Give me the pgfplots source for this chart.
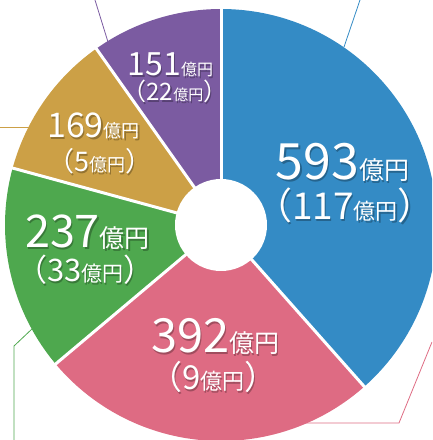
\documentclass[border=0pt]{standalone}
\usepackage{pgfplots}
\pgfplotsset{compat=1.18}
\usepackage{pgfplotstable}
\usepackage{fontspec}
\setmainfont{Noto Sans CJK JP}
\definecolor{cblue}{HTML}{348BC5}
\definecolor{cpink}{HTML}{DE6B83}
\definecolor{cgreen}{HTML}{4EA84E}
\definecolor{cgold}{HTML}{CCA046}
\definecolor{cpurple}{HTML}{7B5BA1}
% values (億円)
\pgfplotstableread{
name value
A 593
B 392
C 237
D 169
E 151
}\pietable
\newcommand{\shtext}[2]{%
  \node[anchor=base, text=black, text opacity=0.28, inner sep=0, xshift=1.2pt, yshift=-1.3pt] at (axis cs:#1) {#2};
  \node[anchor=base, text=white, inner sep=0] at (axis cs:#1) {#2};
}
\newcommand{\fs}[1]{\fontsize{#1}{#1}\selectfont}
\begin{document}
\begin{tikzpicture}
\pgfplotstablegetelem{0}{value}\of\pietable \let\vA\pgfplotsretval
\pgfplotstablegetelem{1}{value}\of\pietable \let\vB\pgfplotsretval
\pgfplotstablegetelem{2}{value}\of\pietable \let\vC\pgfplotsretval
\pgfplotstablegetelem{3}{value}\of\pietable \let\vD\pgfplotsretval
\pgfplotstablegetelem{4}{value}\of\pietable \let\vE\pgfplotsretval
\pgfmathsetmacro{\tot}{\vA+\vB+\vC+\vD+\vE}
\pgfmathsetmacro{\aA}{90}
\pgfmathsetmacro{\aB}{\aA-360*(\vA/\tot)}
\pgfmathsetmacro{\aC}{\aB-360*(\vB/\tot)}
\pgfmathsetmacro{\aD}{\aC-360*(\vC/\tot)}
\pgfmathsetmacro{\aE}{\aD-360*(\vD/\tot)}
\pgfmathsetmacro{\aF}{\aE-360*(\vE/\tot)}
\begin{axis}[
  scale only axis, width=432pt, height=440pt,
  xmin=0, xmax=432, ymin=-440, ymax=0,
  hide axis, clip=true,
]
\begin{scope}
\clip (axis cs:0,-440) rectangle (axis cs:432,0);
\fill[cblue]   (axis cs:221,-225) -- ++(\aA:216pt) arc[start angle=\aA, end angle=\aB, radius=216pt] -- cycle;
\fill[cpink]   (axis cs:221,-225) -- ++(\aB:216pt) arc[start angle=\aB, end angle=\aC, radius=216pt] -- cycle;
\fill[cgreen]  (axis cs:221,-225) -- ++(\aC:216pt) arc[start angle=\aC, end angle=\aD, radius=216pt] -- cycle;
\fill[cgold]   (axis cs:221,-225) -- ++(\aD:216pt) arc[start angle=\aD, end angle=\aE, radius=216pt] -- cycle;
\fill[cpurple] (axis cs:221,-225) -- ++(\aE:216pt) arc[start angle=\aE, end angle=\aF, radius=216pt] -- cycle;
\draw[white, line width=3pt] (axis cs:221,-225) -- ++(\aA:222pt);
\draw[white, line width=3pt] (axis cs:221,-225) -- ++(\aB:222pt);
\draw[white, line width=3pt] (axis cs:221,-225) -- ++(\aC:222pt);
\draw[white, line width=3pt] (axis cs:221,-225) -- ++(\aD:222pt);
\draw[white, line width=3pt] (axis cs:221,-225) -- ++(\aE:222pt);
\fill[white] (axis cs:221,-225) circle[radius=46pt];
% leader lines
\draw[cpurple, line width=0.8pt] (axis cs:95,0) -- (axis cs:108,-42);
\draw[cgold, line width=0.8pt] (axis cs:0,-127) -- (axis cs:30,-127);
\draw[cgreen, line width=0.8pt] (axis cs:33,-328) -- (axis cs:14,-346) -- (axis cs:14,-440);
\draw[cblue, line width=0.8pt] (axis cs:344,-47) -- (axis cs:360,0);
\draw[cpink, line width=0.8pt] (axis cs:432,-342) -- (axis cs:399,-423) -- (axis cs:301,-423);
\end{scope}
% labels
\shtext{342.5,-180}{\fs{50}593\fs{25}億円}
\shtext{345,-220}{\fs{37}（117\fs{22}億円\fs{37}）}
\shtext{215.5,-353}{\fs{47}392\fs{25}億円}
\shtext{213.5,-390}{\fs{33}（9\fs{22}億円\fs{33}）}
\shtext{87.5,-248}{\fs{45}237\fs{25}億円}
\shtext{85.5,-282}{\fs{31}（33\fs{21}億円\fs{31}）}
\shtext{93.5,-138}{\fs{34}169\fs{18}億円}
\shtext{100,-172}{\fs{27}（5\fs{18}億円\fs{27}）}
\shtext{170.5,-76}{\fs{32}151\fs{16}億円}
\shtext{175,-101}{\fs{24}（22\fs{15}億円\fs{24}）}
\end{axis}
\pgfresetboundingbox
\path (current axis.south west) rectangle (current axis.north east);
\end{tikzpicture}
\end{document}
